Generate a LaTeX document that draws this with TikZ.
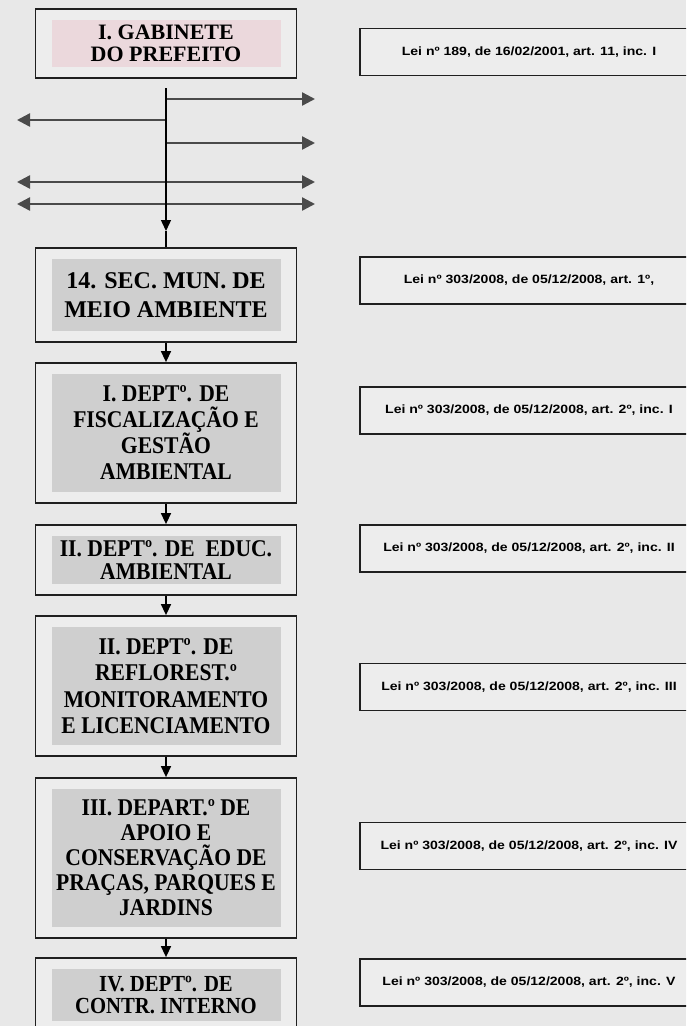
\documentclass[tikz,border=0pt]{standalone}
\usepackage{fontspec}
\setmainfont{Liberation Serif}
\newfontfamily\unitfont[FakeStretch=0.9]{Liberation Serif}
\newfontfamily\lawfont[FakeStretch=1.17]{Liberation Sans}
\usetikzlibrary{arrows.meta}
\definecolor{bg}{HTML}{E8E8E8}
\definecolor{boxfill}{HTML}{EDEDED}
\definecolor{shadegray}{HTML}{CFCFCF}
\definecolor{shadepink}{HTML}{EBD8DC}
\definecolor{linegray}{HTML}{4A4A4A}
\begin{document}
\begin{tikzpicture}[x=1pt,y=-1pt,
  unit/.style={draw=black!88, line width=1.8pt, fill=boxfill, minimum width=261pt,
    align=center, inner sep=0pt,
    path picture={\fill[#1] ([xshift=16pt,yshift=-11pt]path picture bounding box.north west)
      rectangle ([xshift=-16pt,yshift=11pt]path picture bounding box.south east);}},
  unit/.default=shadegray,
  ufont/.style 2 args={font=\unitfont\bfseries\fontsize{#1}{#2}\selectfont},
  law/.style={draw=black!88, line width=1.6pt, fill=boxfill, minimum width=338pt,
    minimum height=47pt, inner sep=0pt,
    font=\lawfont\bfseries\fontsize{12}{14}\selectfont},
  conn/.style={draw=black, line width=1.4pt, -{Triangle[length=11pt,width=10pt]}},
  harrow/.style={draw=linegray, line width=2.4pt, -{Triangle[length=13pt,width=13pt]}},
  darrow/.style={draw=linegray, line width=2.4pt, {Triangle[length=13pt,width=13pt]}-{Triangle[length=13pt,width=13pt]}}
]
\useasboundingbox (0,0) rectangle (686,1026);
\clip (0,0) rectangle (686,1026);
\fill[bg] (0,0) rectangle (686,1026);

% left column units
\node[unit=shadepink, minimum height=69pt, font=\bfseries\fontsize{22}{22}\selectfont] (b1) at (166,43.5) {I. GABINETE\\DO PREFEITO};
\node[unit, minimum height=94pt, font=\bfseries\fontsize{24}{29}\selectfont] (b2) at (166,295) {14. SEC. MUN. DE\\MEIO AMBIENTE};
\node[unit, minimum height=140pt, ufont={24}{26}] (b3) at (166,433) {I. DEPTº. DE\\FISCALIZAÇÃO E\\GESTÃO\\AMBIENTAL};
\node[unit, minimum height=70pt, ufont={24}{23}] (b4) at (166,560) {II. DEPTº. DE\ \ EDUC.\\AMBIENTAL};
\node[unit, minimum height=140pt, ufont={24}{26.5}] (b5) at (166,686) {II. DEPTº. DE\\REFLOREST.º\\MONITORAMENTO\\E LICENCIAMENTO};
\node[unit, minimum height=160pt, ufont={24}{25}] (b6) at (166,858) {III. DEPART.º DE\\APOIO E\\CONSERVAÇÃO DE\\PRAÇAS, PARQUES E\\JARDINS};
\node[unit, minimum height=74pt, ufont={23}{22.5}] (b7) at (166,995) {IV. DEPTº. DE\\CONTR. INTERNO};

% legal references
\node[law] (l1) at (529,52) {Lei nº 189, de 16/02/2001, art. 11, inc. I};
\node[law] (l2) at (529,280.5) {Lei nº 303/2008, de 05/12/2008, art. 1º,};
\node[law] (l3) at (529,410.5) {Lei nº 303/2008, de 05/12/2008, art. 2º, inc. I};
\node[law] (l4) at (529,548.5) {Lei nº 303/2008, de 05/12/2008, art. 2º, inc. II};
\node[law] (l5) at (529,687) {Lei nº 303/2008, de 05/12/2008, art. 2º, inc. III};
\node[law] (l6) at (529,846) {Lei nº 303/2008, de 05/12/2008, art. 2º, inc. IV};
\node[law] (l7) at (529,982.5) {Lei nº 303/2008, de 05/12/2008, art. 2º, inc. V};

% main vertical line with branches
\coordinate (vtop) at (166,88);
\coordinate (vtip) at (166,231);
\coordinate (v1) at (167,99);
\coordinate (v2) at (165,120);
\coordinate (v3) at (167,143);
\coordinate (v4) at (166,182);
\coordinate (v5) at (166,204);
\coordinate (r1) at (315,99);
\coordinate (e2) at (17,120);
\coordinate (r3) at (315,143);
\coordinate (a4) at (17,182);
\coordinate (c4) at (315,182);
\coordinate (a5) at (17,204);
\coordinate (c5) at (315,204);

\draw[harrow] (v1) -- (r1);
\draw[harrow] (v2) -- (e2);
\draw[harrow] (v3) -- (r3);
\draw[darrow] (a4) -- (c4);
\draw[darrow] (a5) -- (c5);
\draw[conn] (vtop) -- (vtip);
\draw[draw=black, line width=1.4pt] (vtip) -- (b2.north);

% connectors between units
\draw[conn] (b2.south) -- (b3.north);
\draw[conn] (b3.south) -- (b4.north);
\draw[conn] (b4.south) -- (b5.north);
\draw[conn] (b5.south) -- (b6.north);
\draw[conn] (b6.south) -- (b7.north);
\end{tikzpicture}
\end{document}
